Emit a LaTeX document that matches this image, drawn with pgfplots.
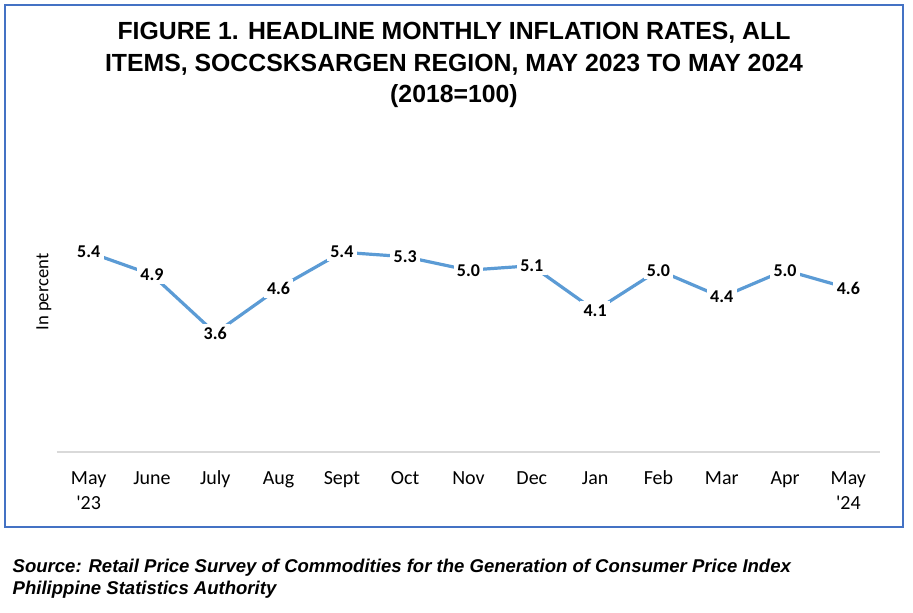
\documentclass[border=0pt]{standalone}
\usepackage{pgfplots}
\pgfplotsset{compat=1.18}
\usepackage{fontspec}
\setmainfont{Liberation Sans}
\newfontfamily\calibri{Carlito}
\definecolor{lineblue}{HTML}{5B9BD5}
\definecolor{boxblue}{HTML}{4472C4}
\definecolor{axisgray}{HTML}{D9D9D9}
\newcommand\s{\rule{0pt}{12pt}}
\begin{document}
\begin{tikzpicture}[x=0.75pt,y=0.75pt]
\path[use as bounding box] (0,0) rectangle (913,613);
\draw[boxblue, line width=1.1pt] (5,86) rectangle (903,608);
\node[font=\fontsize{18.6}{23.6}\selectfont\bfseries, align=center] at (454,548)
  {FIGURE 1. HEADLINE MONTHLY INFLATION RATES, ALL\\ITEMS, SOCCSKSARGEN REGION, MAY 2023 TO MAY 2024\\(2018=100)};
\node[font=\calibri\fontsize{14}{17}\selectfont, rotate=90] at (44,321) {In percent};
\begin{axis}[
  at={(42.75pt,120.75pt)}, anchor=south west,
  width=617.25pt, height=202.5pt, scale only axis,
  xmin=-0.5, xmax=12.5, ymin=0.96, ymax=6.96,
  axis y line=none,
  axis x line=bottom,
  x axis line style={draw=axisgray, line width=0.9pt, -},
  xtick={0,...,12}, major tick length=0pt,
  xticklabels={{\s May\\\textquotesingle23},\s June,\s July,\s Aug,\s Sept,\s Oct,\s Nov,\s Dec,\s Jan,\s Feb,\s Mar,\s Apr,{\s May\\\textquotesingle24}},
  xticklabel style={font=\calibri\fontsize{15}{18.75}\selectfont, align=center, anchor=north, inner sep=0pt, yshift=-12.5pt},
  clip=false,
]
\addplot[lineblue, line width=2.4pt,
  nodes near coords={\pgfmathprintnumber[fixed, fixed zerofill, precision=1, assume math mode=true]{\pgfplotspointmeta}},
  nodes near coords align={center},
  every node near coord/.append style={anchor=center, font=\calibri\bfseries\fontsize{13.5}{16}\selectfont, fill=white, inner sep=2.5pt, text=black},
] coordinates {
(0,5.4) (1,4.9) (2,3.6) (3,4.6) (4,5.4) (5,5.3) (6,5.0) (7,5.1) (8,4.1) (9,5.0) (10,4.4) (11,5.0) (12,4.6)
};
\end{axis}
\node[font=\fontsize{13.9}{16.5}\selectfont\bfseries\itshape, align=left, anchor=west] at (8,34)
  {Source: Retail Price Survey of Commodities for the Generation of Consumer Price Index\\Philippine Statistics Authority};
\end{tikzpicture}
\end{document}
